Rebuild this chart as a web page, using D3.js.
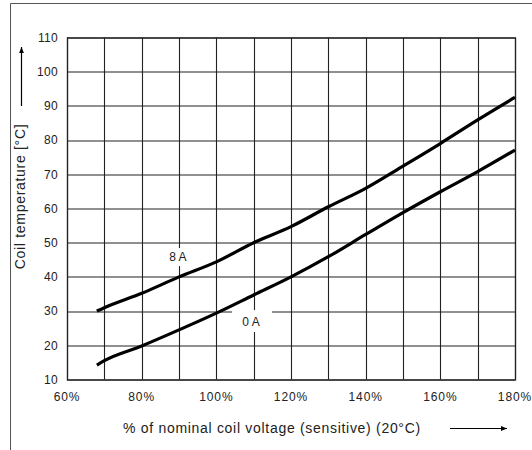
<!DOCTYPE html>
<html>
<head>
<meta charset="utf-8">
<script src="https://cdn.jsdelivr.net/npm/d3@7"></script>
<style>
  body { margin: 0; background: #fff; }
  text { font-family: "Liberation Sans", Arial, sans-serif; fill: #222; }
</style>
</head>
<body>
<div id="chart"></div>
<script>
// voltage in % of nominal, temperature in degC
const voltage8A = [68, 70, 80, 90, 100, 110, 120, 130, 140, 150, 160, 170, 180];
const temp8A = [30, 31, 35.2, 40, 44.4, 50, 54.7, 60.5, 65.9, 72.4, 79, 85.9, 92.5];
const voltage0A = [68, 70, 80, 90, 100, 110, 120, 130, 140, 150, 160, 170, 180];
const temp0A = [14.2, 15.5, 19.8, 24.5, 29.4, 34.7, 40, 45.9, 52.4, 58.8, 64.9, 70.8, 77.1];
const xTicks = [60, 80, 100, 120, 140, 160, 180];
const yTicks = [10, 20, 30, 40, 50, 60, 70, 80, 90, 100, 110];
const curveLabels = ["8 A", "0 A"];
const labelV = [89.7, 109.3];
const labelT = [45.8, 26.8];

const width = 532, height = 450;
const margin = { top: 37.5, right: 17, bottom: 70.5, left: 67 };
const plotW = width - margin.left - margin.right;
const plotH = height - margin.top - margin.bottom;

const svg = d3.select("#chart").append("svg")
    .attr("width", width)
    .attr("height", height);

// outer frame (top and left only)
svg.append("path")
    .attr("d", "M10.5," + height + "V3.5H" + width)
    .attr("fill", "none")
    .attr("stroke", "#555")
    .attr("stroke-width", 1);

const x = d3.scaleLinear().domain([60, 180]).range([0, plotW]);
const y = d3.scaleLinear().domain([10, 110]).range([plotH, 0]);

const g = svg.append("g")
    .attr("transform", "translate(" + margin.left + "," + margin.top + ")");

// grid every 10 %
g.append("g")
    .selectAll("line")
    .data(d3.range(60, 181, 10))
    .enter().append("line")
    .attr("x1", d => Math.round(x(d)) + 0.5)
    .attr("x2", d => Math.round(x(d)) + 0.5)
    .attr("y1", 0)
    .attr("y2", plotH)
    .attr("stroke", "#222")
    .attr("stroke-width", 1.1);

g.append("g")
    .selectAll("line")
    .data(yTicks)
    .enter().append("line")
    .attr("x1", 0)
    .attr("x2", plotW)
    .attr("y1", d => Math.round(y(d)) + 0.5)
    .attr("y2", d => Math.round(y(d)) + 0.5)
    .attr("stroke", "#222")
    .attr("stroke-width", 1.1);

// tick labels
g.append("g")
    .selectAll("text")
    .data(yTicks)
    .enter().append("text")
    .attr("x", -9)
    .attr("y", d => y(d))
    .attr("dy", "0.35em")
    .attr("text-anchor", "end")
    .style("font-size", "12px")
    .style("letter-spacing", "0.3px")
    .text(d => d);

g.append("g")
    .selectAll("text")
    .data(xTicks)
    .enter().append("text")
    .attr("x", d => x(d))
    .attr("y", plotH + 21)
    .attr("text-anchor", "middle")
    .style("font-size", "12px")
    .style("letter-spacing", "0.9px")
    .text(d => d + "%");

// label boxes (white, they interrupt the grid)
const labelBoxes = [
    { w: 30, h: 18, dx: -15, dy: -9 },
    { w: 40, h: 22, dx: -19, dy: -12 }
];
g.append("g")
    .selectAll("rect")
    .data(curveLabels)
    .enter().append("rect")
    .attr("x", (d, i) => x(labelV[i]) + labelBoxes[i].dx)
    .attr("y", (d, i) => y(labelT[i]) + labelBoxes[i].dy)
    .attr("width", (d, i) => labelBoxes[i].w)
    .attr("height", (d, i) => labelBoxes[i].h)
    .attr("fill", "#fff");

// plot border
g.append("rect")
    .attr("x", 0.5)
    .attr("y", 0.5)
    .attr("width", plotW)
    .attr("height", plotH)
    .attr("fill", "none")
    .attr("stroke", "#222")
    .attr("stroke-width", 1.3);

// curves
const line = d3.line()
    .x(d => x(d[0]))
    .y(d => y(d[1]))
    .curve(d3.curveMonotoneX);

g.append("path")
    .datum(d3.zip(voltage8A, temp8A))
    .attr("fill", "none")
    .attr("stroke", "#000")
    .attr("stroke-width", 3.2)
    .attr("d", line);

g.append("path")
    .datum(d3.zip(voltage0A, temp0A))
    .attr("fill", "none")
    .attr("stroke", "#000")
    .attr("stroke-width", 3.2)
    .attr("d", line);

g.append("g")
    .selectAll("text")
    .data(curveLabels)
    .enter().append("text")
    .attr("x", (d, i) => x(labelV[i]))
    .attr("y", (d, i) => y(labelT[i]))
    .attr("dy", "0.35em")
    .attr("text-anchor", "middle")
    .style("font-size", "12px")
    .text(d => d);

// axis titles with arrows
svg.append("defs").append("marker")
    .attr("id", "arrow")
    .attr("viewBox", "0 0 10 10")
    .attr("refX", 10)
    .attr("refY", 5)
    .attr("markerWidth", 6)
    .attr("markerHeight", 5)
    .attr("orient", "auto")
    .append("path")
    .attr("d", "M0,1L10,5L0,9Z")
    .attr("fill", "#000");

svg.append("text")
    .attr("x", 123)
    .attr("y", 428)
    .attr("dy", "0.35em")
    .style("font-size", "14px")
    .style("letter-spacing", "0.7px")
    .text("% of nominal coil voltage (sensitive) (20°C)");

svg.append("line")
    .attr("x1", 450).attr("x2", 507)
    .attr("y1", 428.5).attr("y2", 428.5)
    .attr("stroke", "#000")
    .attr("stroke-width", 1.2)
    .attr("marker-end", "url(#arrow)");

svg.append("text")
    .attr("transform", "translate(20,196.5) rotate(-90)")
    .attr("dy", "0.35em")
    .attr("text-anchor", "middle")
    .style("font-size", "14px")
    .style("letter-spacing", "0.7px")
    .text("Coil temperature [°C]");

svg.append("line")
    .attr("x1", 21.5).attr("x2", 21.5)
    .attr("y1", 106).attr("y2", 47)
    .attr("stroke", "#000")
    .attr("stroke-width", 1.2)
    .attr("marker-end", "url(#arrow)");
</script>
</body>
</html>
